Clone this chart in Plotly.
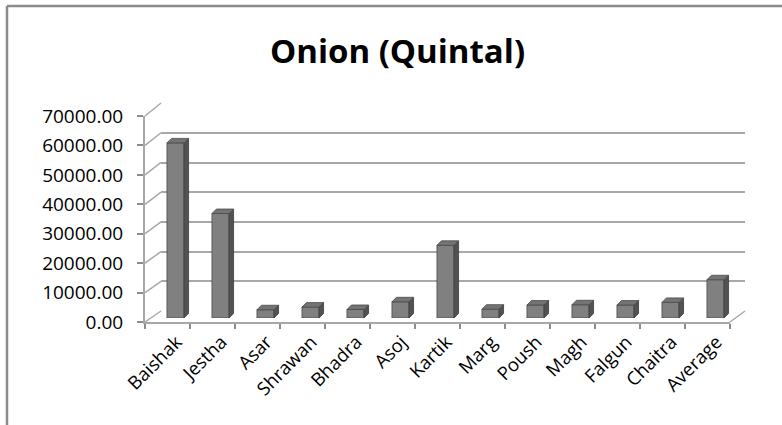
import plotly.graph_objects as go

# ---------------- data ----------------
months = ["Baishak", "Jestha", "Asar", "Shrawan", "Bhadra", "Asoj", "Kartik",
          "Marg", "Poush", "Magh", "Falgun", "Chaitra", "Average"]
quintal = [59500, 35500, 2800, 3700, 2900, 5500, 24700,
           3000, 4400, 4500, 4400, 5300, 13000]
y_ticks = [0, 10000, 20000, 30000, 40000, 50000, 60000, 70000]
title_text = "Onion (Quintal)"

# ---------------- geometry (pixels) ----------------
W, H = 782, 425
PL, PR, PT, PB = 145, 746, 103, 322          # plot area box
FX0, FX1, FY0, FY1 = 145, 730, 322, 116      # front axes
BX0, BX1, BY0, BY1 = 161, 745, 311, 103      # back wall
MDX, MDY = 8, -4                              # bar depth offset
PW, PH = PR - PL, PB - PT


def px_x(p):
    return (p - PL) / PW


def px_y(p):
    return (PB - p) / PH


YMAX = 70000
n = len(months)
bar_w = 0.38
dx = 4.5 / ((FX1 - FX0) / n)                  # side depth in category units
dy = 4.5 / ((FY0 - FY1) / YMAX)               # top depth in value units

fig = go.Figure()

# back wall subplot (x, y) -> only gridlines
fig.add_trace(go.Scatter(x=[0], y=[0], xaxis="x", yaxis="y", mode="markers",
                         marker=dict(opacity=0), hoverinfo="skip", showlegend=False))
# front axes subplot (x2, y2)
fig.add_trace(go.Scatter(x=months, y=quintal, xaxis="x2", yaxis="y2", mode="markers",
                         marker=dict(opacity=0), hoverinfo="skip", showlegend=False))

# bars (x3, y3): front faces
idx = list(range(n))
fig.add_trace(go.Bar(x=idx, y=quintal, xaxis="x3", yaxis="y3", width=bar_w,
                     marker=dict(color="#808080", line=dict(color="#4a4a4a", width=0.8)),
                     showlegend=False, hoverinfo="skip"))

# side and top faces as polygons derived from values
sx, sy, tx, ty = [], [], [], []
for i, v in enumerate(quintal):
    r = i + bar_w / 2
    l = i - bar_w / 2
    sx += [r, r + dx, r + dx, r, r, None]
    sy += [0, dy, v + dy, v, 0, None]
    tx += [l, r, r + dx, l + dx, l, None]
    ty += [v, v, v + dy, v + dy, v, None]
fig.add_trace(go.Scatter(x=sx, y=sy, xaxis="x3", yaxis="y3", mode="lines", fill="toself",
                         fillcolor="#525252", line=dict(color="#3c3c3c", width=0.8),
                         hoverinfo="skip", showlegend=False))
fig.add_trace(go.Scatter(x=tx, y=ty, xaxis="x3", yaxis="y3", mode="lines", fill="toself",
                         fillcolor="#747474", line=dict(color="#4a4a4a", width=0.8),
                         hoverinfo="skip", showlegend=False))

grid_col = "#a8a8a8"
axis_col = "#a8a8a8"
tick_col = "#8c8c8c"
font_fam = "Open Sans"

shapes = []
# left wall diagonals at each tick level
for v in y_ticks:
    yf = FY0 + (FY1 - FY0) * v / YMAX
    yb = BY0 + (BY1 - BY0) * v / YMAX
    shapes.append(dict(type="line", xref="paper", yref="paper",
                       x0=px_x(FX0), y0=px_y(yf), x1=px_x(BX0), y1=px_y(yb),
                       line=dict(color=grid_col, width=1.5), layer="below"))
# floor right edge
shapes.append(dict(type="line", xref="paper", yref="paper",
                   x0=px_x(FX1), y0=px_y(FY0), x1=px_x(BX1), y1=px_y(BY0),
                   line=dict(color=grid_col, width=1.5), layer="below"))
# chart border (top and left visible)
shapes.append(dict(type="line", xref="paper", yref="paper",
                   x0=px_x(7), y0=px_y(6), x1=px_x(W + 10), y1=px_y(6),
                   line=dict(color="#8c8c8c", width=2.5)))
shapes.append(dict(type="line", xref="paper", yref="paper",
                   x0=px_x(7), y0=px_y(6), x1=px_x(7), y1=px_y(H + 10),
                   line=dict(color="#8c8c8c", width=2.5)))

fig.update_layout(
    width=W, height=H,
    margin=dict(l=PL, r=W - PR, t=PT, b=H - PB),
    paper_bgcolor="white", plot_bgcolor="rgba(0,0,0,0)",
    showlegend=False,
    title=dict(text="<b>%s</b>" % title_text, xref="container", yref="container",
               x=397.5 / W, y=1 - 51 / H, xanchor="center", yanchor="middle",
               font=dict(family=font_fam, size=33, color="black")),
    xaxis=dict(domain=[px_x(BX0), px_x(BX1)], range=[0, 1], visible=False, fixedrange=True),
    yaxis=dict(domain=[px_y(BY0), px_y(BY1)], range=[-60, YMAX + 60], tickvals=y_ticks,
               showgrid=True, gridcolor=grid_col, gridwidth=2, zeroline=False,
               showticklabels=False, ticks="", showline=False),
    xaxis2=dict(domain=[px_x(FX0), px_x(FX1)], anchor="y2", type="category",
                categoryorder="array", categoryarray=months, range=[-0.5, n - 0.5],
                tickson="boundaries", ticks="outside", ticklen=5, tickwidth=1.5,
                tickcolor=tick_col, showline=True, linecolor=axis_col, linewidth=2,
                showgrid=False, zeroline=False, tickangle=-45, ticklabelshift=9,
                tickfont=dict(family=font_fam, size=18.5, color="black")),
    yaxis2=dict(domain=[px_y(FY0), px_y(FY1)], anchor="x2", range=[0, YMAX],
                tickvals=y_ticks, tickformat=".2f", ticks="outside", ticklen=6,
                tickwidth=1.5, tickcolor=tick_col, showline=True, linecolor=axis_col,
                linewidth=2, showgrid=False, zeroline=False, ticklabelstandoff=10,
                tickfont=dict(family=font_fam, size=19, color="black")),
    xaxis3=dict(domain=[px_x(FX0 + MDX), px_x(FX1 + MDX)], anchor="y3",
                range=[-0.5, n - 0.5], visible=False),
    yaxis3=dict(domain=[px_y(FY0 + MDY), px_y(FY1 + MDY)], anchor="x3",
                range=[0, YMAX], visible=False),
    shapes=shapes,
)

fig.write_html("out.html", config={"displayModeBar": False},
               post_script="document.body.style.margin='0';")
